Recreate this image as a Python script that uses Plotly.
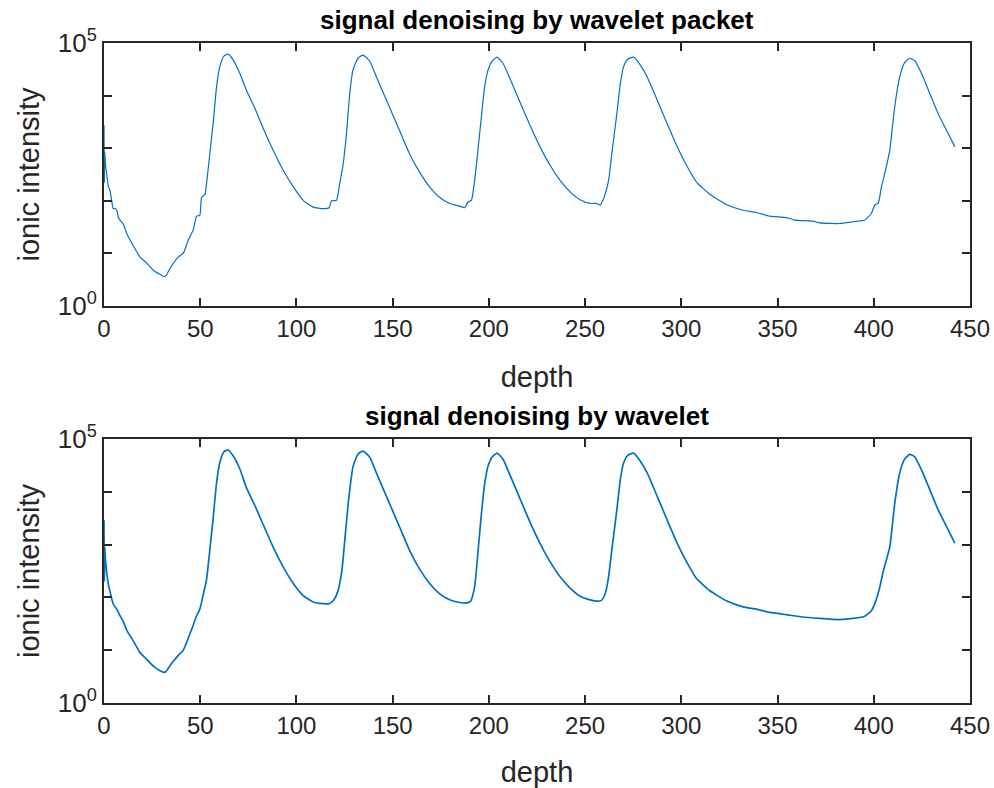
import plotly.graph_objects as go

# ---- data ----
depth_packet = [0.0, 0.2, 0.4, 0.8, 1.4, 2.2, 3.1, 4.0, 4.8, 5.6, 6.6, 7.5, 8.3, 10.0, 11.8,
                15.2, 18.7, 22.1, 25.6, 29.1, 31.7, 35.1, 38.6, 41.2, 43.8, 46.4, 48.1, 49.8,
                50.7, 52.4, 53.3, 55.0, 56.7, 58.5, 60.2, 62.3, 64.5, 67.1, 70.6, 74.0, 78.4,
                82.7, 87.9, 93.1, 98.3, 103.5, 108.7, 113.8, 117.0, 118.2, 120.8, 122.5, 124.2,
                126.0, 127.7, 129.4, 132.0, 134.6, 138.1, 141.5, 146.7, 153.5, 158.7, 163.9,
                169.1, 174.3, 179.6, 184.8, 187.4, 189.1, 190.9, 192.6, 194.3, 196.1, 197.8,
                199.6, 201.8, 204.3, 207.4, 210.9, 216.1, 221.3, 226.5, 231.7, 237.0, 242.2,
                247.4, 252.6, 256.1, 257.8, 259.6, 262.2, 263.9, 266.5, 268.3, 270.0, 272.1,
                275.2, 278.7, 282.2, 287.4, 292.6, 297.8, 302.6, 307.8, 314.7, 323.4, 332.1,
                339.0, 345.9, 354.6, 358.9, 368.5, 371.9, 382.3, 389.3, 395.3, 398.8, 400.5,
                402.3, 404.0, 405.7, 408.3, 410.9, 413.5, 416.1, 418.7, 421.3, 424.8, 429.1,
                433.4, 437.8, 442.1]
intensity_packet = [2750, 220, 850, 480, 331, 190, 158, 100, 71, 72, 66, 48, 43, 36, 24,
                    14, 8.5, 6.6, 4.8, 4.0, 3.6, 5.8, 8.5, 10, 18, 28, 51, 53,
                    117, 130, 214, 794, 2951, 14791, 35481, 56234, 61660, 47863, 26303, 12589, 5754,
                    2399, 912, 380, 186, 102, 76, 71, 74, 100, 102, 214, 479,
                    1905, 10965, 30903, 51286, 58884, 45000, 22909, 8318, 2188, 794, 355,
                    186, 117, 89, 79, 74, 95, 102, 245, 912, 3981, 14791,
                    30903, 45709, 53703, 40738, 21380, 7586, 2754, 1072, 479, 245, 148,
                    105, 89, 89, 83, 110, 245, 794, 4571, 16982, 35481, 48978,
                    53703, 38019, 22909, 8318, 2951, 1072, 479, 229, 135, 85, 66,
                    60, 51, 48, 43, 41, 38, 37, 40, 43, 58, 83,
                    90, 186, 331, 912, 6166, 22909, 42658, 51286, 46000, 26303, 10965,
                    4571, 2188, 1072]

depth_wavelet = [0.0, 0.2, 0.4, 0.8, 1.4, 2.2, 3.1, 4.0, 4.8, 6.6, 8.3, 10.0, 11.8,
                 15.2, 18.7, 22.1, 25.6, 29.1, 31.7, 35.1, 38.6, 41.2, 43.8, 46.4, 48.1, 49.8,
                 51.5, 53.3, 55.0, 56.7, 58.5, 60.2, 62.3, 64.5, 67.1, 70.6, 74.0, 78.4,
                 82.7, 87.9, 93.1, 98.3, 103.5, 108.7, 113.8, 117.0, 119.5, 121.5, 123.5,
                 125.2, 127.0, 129.4, 132.0, 134.6, 138.1, 141.5, 146.7, 153.5, 158.7, 163.9,
                 169.1, 174.3, 179.6, 184.8, 188.0, 190.5, 192.6, 194.3, 196.1, 197.8,
                 199.6, 201.8, 204.3, 207.4, 210.9, 216.1, 221.3, 226.5, 231.7, 237.0, 242.2,
                 247.4, 252.6, 256.1, 258.5, 260.5, 262.2, 263.9, 266.5, 268.3, 270.0, 272.1,
                 275.2, 278.7, 282.2, 287.4, 292.6, 297.8, 302.6, 307.8, 314.7, 323.4, 332.1,
                 339.0, 345.9, 354.6, 362.0, 371.9, 382.3, 389.3, 395.3, 398.8, 401.0,
                 403.0, 405.0, 408.3, 410.9, 413.5, 416.1, 418.7, 421.3, 424.8, 429.1,
                 433.4, 437.8, 442.1]
intensity_wavelet = [2900, 200, 900, 500, 300, 180, 130, 95, 75, 60, 45, 35, 24,
                     15, 9.0, 6.8, 5.0, 4.1, 3.8, 5.6, 8.0, 10, 17, 30, 45, 60,
                     110, 220, 800, 3100, 15000, 36000, 57000, 62000, 48000, 27000, 12000, 5500,
                     2400, 900, 380, 185, 108, 82, 76, 76, 90, 130, 300,
                     1300, 6500, 30000, 52000, 59000, 45000, 23000, 8300, 2200, 790, 350,
                     185, 118, 90, 80, 78, 85, 160, 700, 3800, 14000,
                     31000, 46000, 54000, 41000, 21000, 7500, 2700, 1070, 480, 245, 150,
                     105, 90, 85, 88, 120, 245, 800, 4600, 17000, 35000, 49000,
                     54000, 38000, 23000, 8300, 2950, 1070, 480, 230, 135, 86, 66,
                     60, 52, 47, 43, 40, 38, 40, 44, 56, 85,
                     150, 320, 900, 6100, 23000, 42000, 51000, 46000, 26000, 11000,
                     4600, 2200, 1070]

x_ticks = [0, 50, 100, 150, 200, 250, 300, 350, 400, 450]
y_label_ticks = [1, 100000]
y_label_text = ["10<sup>0</sup>", "10<sup>5</sup>"]
y_minor_ticks = [10, 100, 1000, 10000]
titles = ["signal denoising by wavelet packet", "signal denoising by wavelet"]
x_label = "depth"
y_label = "ionic intensity"

W, H = 994, 788
FONT = "Liberation Sans, Arial, Helvetica, sans-serif"
AX = "#262626"
BLUE = "#0072BD"

def px(x):
    return x / W

def py(y):
    return 1 - y / H

fig = go.Figure()
fig.add_trace(go.Scatter(x=depth_packet, y=intensity_packet, mode="lines",
                         line=dict(color=BLUE, width=1.2, shape="spline", smoothing=0.5),
                         xaxis="x", yaxis="y", showlegend=False))
fig.add_trace(go.Scatter(x=depth_wavelet, y=intensity_wavelet, mode="lines",
                         line=dict(color=BLUE, width=1.7, shape="spline", smoothing=0.5),
                         xaxis="x2", yaxis="y2", showlegend=False))

x_dom = [px(104), px(970)]
panels = [(43, 306), (439, 703)]

common_x = dict(range=[0, 450], tickvals=x_ticks, ticks="inside", ticklen=8, tickwidth=2,
                tickcolor=AX, showline=True, linecolor=AX, linewidth=2, mirror="ticks",
                showgrid=False, zeroline=False, automargin=False,
                tickfont=dict(family=FONT, size=24, color=AX), domain=x_dom,
                title=dict(text=x_label, font=dict(family=FONT, size=29, color=AX),
                           standoff=26))
common_y = dict(type="log", range=[0, 5], tickvals=y_label_ticks, ticktext=y_label_text,
                ticks="inside", ticklen=8, tickwidth=2, tickcolor=AX, showline=True,
                linecolor=AX, linewidth=2, mirror="ticks", showgrid=False, zeroline=False,
                automargin=False, tickfont=dict(family=FONT, size=26, color=AX),
                minor=dict(tickmode="array", tickvals=y_minor_ticks, ticks="inside",
                           ticklen=8, tickwidth=2, tickcolor=AX, showgrid=False),
                title=dict(text=y_label, font=dict(family=FONT, size=29, color=AX),
                           standoff=10))

layout = dict(width=W, height=H, margin=dict(l=0, r=0, t=0, b=0),
              plot_bgcolor="white", paper_bgcolor="white")
layout["xaxis"] = dict(common_x, anchor="y")
layout["yaxis"] = dict(common_y, anchor="x", domain=[py(panels[0][1]), py(panels[0][0])])
layout["xaxis2"] = dict(common_x, anchor="y2")
layout["yaxis2"] = dict(common_y, anchor="x2", domain=[py(panels[1][1]), py(panels[1][0])])
fig.update_layout(**layout)

cx = (104 + 970) / 2
ann = []
for i, (top, bot) in enumerate(panels):
    ann.append(dict(text="<b>" + titles[i] + "</b>", x=px(cx), y=py(top - 23),
                    xref="paper", yref="paper", showarrow=False,
                    font=dict(family=FONT, size=26, color="black"),
                    xanchor="center", yanchor="middle"))
fig.update_layout(annotations=ann)

fig.write_html("out.html")
